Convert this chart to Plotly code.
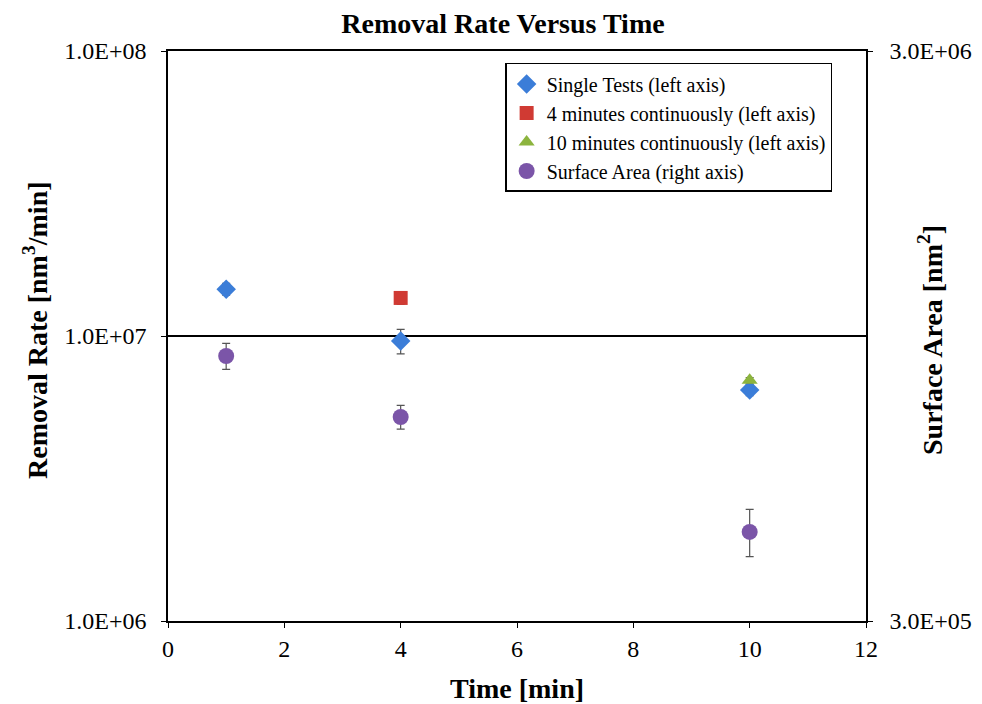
import plotly.graph_objects as go

# Data
single_x = [1, 4, 10]
single_y = [1.46e7, 9.6e6, 6.47e6]
single_err = [0.07e7, 0.95e6, 0.3e6]

cont4_x = [4]
cont4_y = [1.36e7]
cont4_err = [0.07e7]

cont10_x = [10]
cont10_y = [7.0e6]
cont10_err = [0.15e6]

area_x = [1, 4, 10]
area_y = [8.75e5, 6.84e5, 4.30e5]
area_err = [4.6e4, 3.3e4, 4.1e4]

left_tickvals = [1e6, 1e7, 1e8]
left_ticktext = ["1.0E+06", "1.0E+07", "1.0E+08"]
right_tickvals = [3e5, 3e6]
right_ticktext = ["3.0E+05", "3.0E+06"]
x_tickvals = [0, 2, 4, 6, 8, 10, 12]

FONT = "Liberation Serif"
ERRC = "#555555"
TICKSIZE = 24
TITLESIZE = 28
W, H = 974, 696  # page body has an 8px margin

fig = go.Figure()

fig.add_trace(go.Scatter(
    x=single_x, y=single_y, mode="markers", name="Single Tests (left axis)",
    marker=dict(symbol="diamond", size=15, color="#3B7DD8"),
    error_y=dict(type="data", array=single_err, color=ERRC, thickness=1.2, width=4),
))
fig.add_trace(go.Scatter(
    x=cont4_x, y=cont4_y, mode="markers", name="4 minutes continuously (left axis)",
    marker=dict(symbol="square", size=14, color="#D03A33"),
    error_y=dict(type="data", array=cont4_err, color=ERRC, thickness=1.2, width=4),
))
fig.add_trace(go.Scatter(
    x=cont10_x, y=cont10_y, mode="markers", name="10 minutes continuously (left axis)",
    marker=dict(symbol="triangle-up", size=14, color="#8CB43E"),
    error_y=dict(type="data", array=cont10_err, color=ERRC, thickness=1.2, width=4),
))
fig.add_trace(go.Scatter(
    x=area_x, y=area_y, mode="markers", name="Surface Area (right axis)", yaxis="y2",
    marker=dict(symbol="circle", size=16, color="#7B55A8"),
    error_y=dict(type="data", array=area_err, color=ERRC, thickness=1.2, width=4),
))

fig.update_layout(
    width=W, height=H,
    paper_bgcolor="white", plot_bgcolor="white",
    margin=dict(l=160, r=116, t=43, b=83, autoexpand=False),
    font=dict(family=FONT, color="black", size=TICKSIZE),
    title=dict(text="<b>Removal Rate Versus Time</b>", x=(503 - 8) / W, xanchor="center",
               xref="container", y=1, yanchor="top", pad=dict(t=5),
               font=dict(family=FONT, size=28, color="black")),
    showlegend=True,
    legend=dict(x=0.483, y=0.979, xanchor="left", yanchor="top",
                bordercolor="black", borderwidth=1.5, bgcolor="white",
                font=dict(family=FONT, size=20, color="black"),
                itemwidth=30, tracegroupgap=0),
    xaxis=dict(range=[0, 12], tickvals=x_tickvals, showgrid=False, zeroline=False,
               showline=True, linecolor="black", linewidth=1.5, mirror=True,
               ticks="outside", ticklen=5, tickcolor="black", automargin=False,
               tickfont=dict(family=FONT, size=TICKSIZE)),
    yaxis=dict(type="log", range=[6, 8], tickvals=left_tickvals, ticktext=left_ticktext,
               showgrid=True, gridcolor="black", gridwidth=2,
               zeroline=False, showline=True, linecolor="black", linewidth=1.5,
               ticks="outside", ticklen=5, tickcolor="black", automargin=False,
               ticklabelstandoff=10,
               tickfont=dict(family=FONT, size=TICKSIZE)),
    yaxis2=dict(type="log", range=[5.4771213, 6.4771213], overlaying="y", side="right",
                tickvals=right_tickvals, ticktext=right_ticktext,
                showgrid=False, zeroline=False, showline=True, linecolor="black", linewidth=1.5,
                ticks="outside", ticklen=5, tickcolor="black", automargin=False,
                ticklabelstandoff=12,
                tickfont=dict(family=FONT, size=TICKSIZE)),
    annotations=[
        dict(text="<b>Removal Rate [nm<sup>3</sup>/min]</b>", xref="paper", yref="paper",
             x=(35 - 168) / 698, y=(621 - 330) / 570, textangle=-90, showarrow=False,
             xanchor="center", yanchor="middle", font=dict(family=FONT, size=TITLESIZE)),
        dict(text="<b>Surface Area [nm<sup>2</sup>]</b>", xref="paper", yref="paper",
             x=(930 - 168) / 698, y=(621 - 340) / 570, textangle=-90, showarrow=False,
             xanchor="center", yanchor="middle", font=dict(family=FONT, size=TITLESIZE)),
        dict(text="<b>Time [min]</b>", xref="paper", yref="paper",
             x=(517 - 168) / 698, y=(621 - 688) / 570, showarrow=False,
             xanchor="center", yanchor="middle", font=dict(family=FONT, size=TITLESIZE)),
    ],
)

fig.write_html("out.html")
